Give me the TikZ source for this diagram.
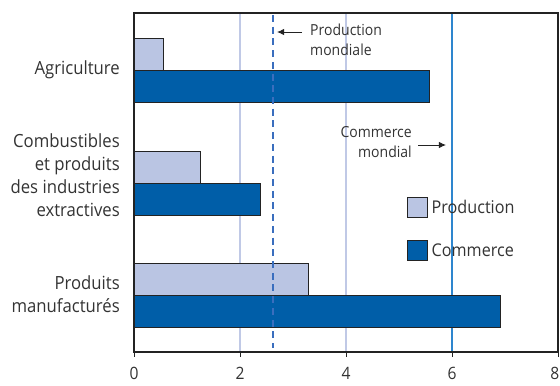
\documentclass[tikz,border=0pt]{standalone}
\usepackage{fontspec}
\setmainfont{Open Sans}[FakeStretch=0.92]
\usetikzlibrary{positioning,arrows.meta}
\definecolor{prodblue}{RGB}{186,197,227}
\definecolor{commblue}{RGB}{0,94,168}
\definecolor{gridblue}{RGB}{192,201,230}
\definecolor{worldblue}{RGB}{46,134,206}
\definecolor{dashblue}{RGB}{58,110,190}
\definecolor{framegray}{RGB}{35,35,35}
\definecolor{textgray}{RGB}{51,51,51}
\tikzset{
	prodbar/.style={fill=prodblue,draw=framegray,line width=0.8pt},
	commbar/.style={fill=commblue,draw=framegray,line width=0.8pt},
	catname/.style={anchor=east,align=right,inner sep=0pt},
	legbox/.style={draw=framegray,line width=0.8pt,minimum size=0.6cm,inner sep=0pt},
	legtext/.style={font=\fontsize{15}{18}\selectfont,inner sep=3pt},
	ticktext/.style={font=\fontsize{14.5}{17}\selectfont,anchor=north,inner sep=0pt},
	annarrow/.style={-{Latex[length=6pt,width=5.5pt]},line width=0.8pt,framegray},
	smalltext/.style={font=\fontsize{13}{17}\selectfont,inner sep=0pt}
}
\begin{document}
\begin{tikzpicture}[x=0.03cm,y=-0.03cm,font=\fontsize{15.5}{19.5}\selectfont,text=textgray]
		\useasboundingbox (0,0) rectangle (560,385);
		\begin{scope}[shift={(134,0)},x=1.59cm]
		\foreach \i in {2,4}
		{
			\draw[gridblue,line width=2pt] (\i,13) -- (\i,352);
		}
		\draw[worldblue,line width=1.2pt] (6,13) -- (6,352);
		\draw[prodbar] (0,38) rectangle (0.55,70);
		\draw[commbar] (0,70) rectangle (5.58,102);
		\draw[prodbar] (0,151) rectangle (1.25,183);
		\draw[commbar] (0,183) rectangle (2.38,215);
		\draw[prodbar] (0,263) rectangle (3.3,295);
		\draw[commbar] (0,295) rectangle (6.92,327);
		\draw[dashblue,line width=1.3pt,dash pattern=on 6pt off 4pt] (2.62,15) -- (2.62,348);
		\draw[framegray,line width=1.6pt] (0,13) rectangle (8,352);
		\foreach \i in {0,2,...,6}
		{
			\draw[framegray,line width=0.8pt] (\i,352) -- (\i,357);
			\node[ticktext] (t\i) at (\i,367) {\i};
		}
		\draw[framegray,line width=0.8pt] (8,352) -- (8,357);
		\node[ticktext,anchor=north east] (t8) at (8.03,367) {8};
		\end{scope}
		\node[catname] (agri) at (120,70) {Agriculture};
		\node[catname] (comb) at (120,175) {Combustibles\\et produits\\des industries\\extractives};
		\node[catname] (manu) at (120,294) {Produits\\manufacturés};
		\node[smalltext,anchor=west,align=left] (prodw) at (310,40) {Production\\mondiale};
		\coordinate (ptail) at (302,32);
		\coordinate (phead) at (277,32);
		\draw[annarrow] (ptail) -- (phead);
		\node[smalltext,anchor=east,align=right] (commw) at (412,142.5) {Commerce\\mondial};
		\coordinate (ctail) at (418,145);
		\coordinate (chead) at (446,145);
		\draw[annarrow] (ctail) -- (chead);
		\node[legbox,fill=prodblue] (lprod) at (417.5,207) {};
		\node[legtext,right=0pt of lprod] (lprodt) {Production};
		\node[legbox,fill=commblue] (lcomm) at (417.5,250.5) {};
		\node[legtext,right=0pt of lcomm] (lcommt) {Commerce};
\end{tikzpicture}
\end{document}
